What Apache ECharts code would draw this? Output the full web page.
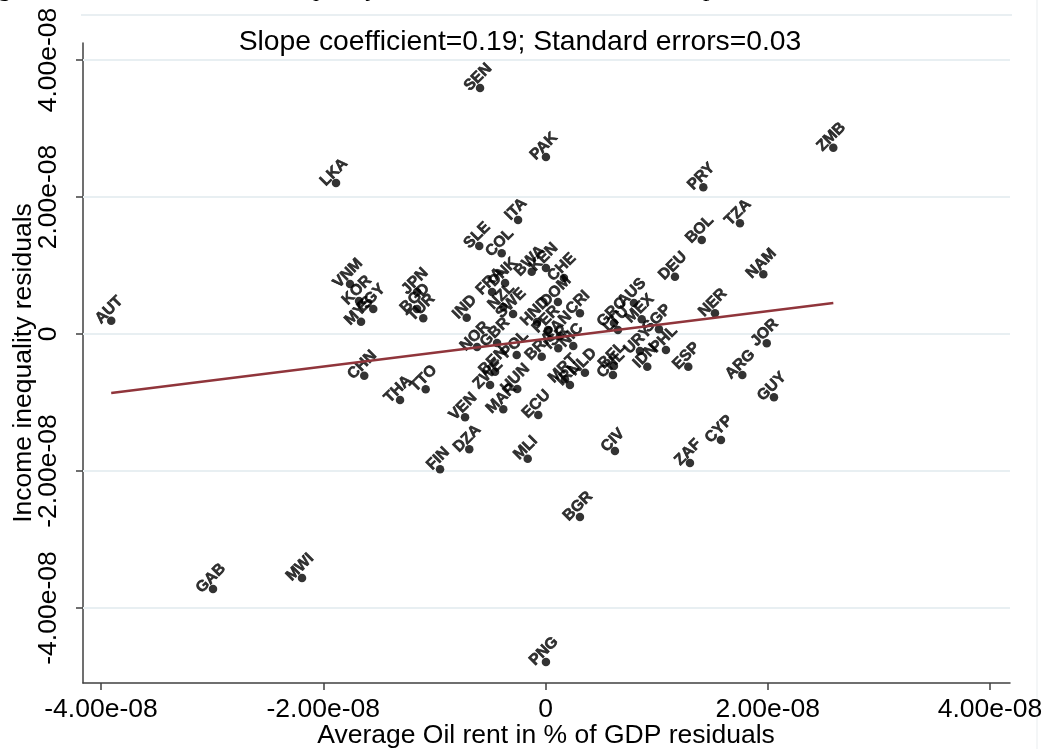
<!DOCTYPE html>
<html><head><meta charset="utf-8">
<script src="https://cdn.jsdelivr.net/npm/echarts@6/dist/echarts.min.js"></script>
<style>html,body{margin:0;padding:0;background:#fff;overflow:hidden}#c{width:1050px;height:749px}</style>
</head><body><div id="c"></div>
<script>
// All residual values are expressed in units of 1e-08
const countries = ['AUT','GAB','MWI','LKA','SEN','PAK','PRY','ZMB','TZA','BOL','NAM','DEU','NER','JOR','ARG','GUY','ESP','PHL','IDN','SGP','MEX','URY','GRC','AUS','LTU','BEL','CHL','ZAF','CYP','CIV','BGR','PNG','MLI','ECU','MAR','HUN','ZWE','VEN','DZA','FIN','THA','TTO','CHN','MYS','EGY','KOR','VNM','JPN','BGD','TUR','IND','SLE','COL','ITA','FRA','DNK','NZL','SWE','KEN','BWA','CHE','DOM','CRI','NOR','GBR','POL','ISR','NIC','BRA','BEN','MRT','NLD','IRL','HND','PER','PAN'];
const oilRentResid = [-3.908,-2.992,-2.191,-1.885,-0.589,0.004,1.420,2.590,1.750,1.406,1.960,1.165,1.525,1.991,1.771,2.056,1.285,1.084,0.916,1.021,0.866,0.850,0.616,0.796,0.652,0.616,0.607,1.300,1.579,0.625,0.310,0.004,-0.160,-0.065,-0.380,-0.254,-0.499,-0.724,-0.686,-0.949,-1.309,-1.078,-1.631,-1.660,-1.550,-1.678,-1.759,-1.156,-1.156,-1.100,-0.709,-0.596,-0.394,-0.247,-0.481,-0.364,-0.380,-0.292,0.004,-0.124,0.166,0.112,0.310,-0.616,-0.436,-0.259,0.115,0.250,-0.034,-0.454,0.175,0.355,0.220,-0.076,0.022,0.130];
const inequalityResid = [0.194,-3.723,-3.562,2.204,3.591,2.584,2.142,2.720,1.616,1.372,0.872,0.836,0.302,-0.136,-0.599,-0.924,-0.477,-0.234,-0.477,0.069,0.215,-0.248,0.161,0.453,0.058,-0.467,-0.599,-1.883,-1.547,-1.708,-2.672,-4.788,-1.820,-1.182,-1.099,-0.803,-0.745,-1.216,-1.683,-1.975,-0.964,-0.807,-0.609,0.180,0.365,0.482,0.730,0.613,0.365,0.229,0.238,1.285,1.178,1.664,0.613,0.745,0.394,0.292,0.964,0.909,0.818,0.467,0.302,-0.190,-0.131,-0.307,-0.209,-0.175,-0.331,-0.550,-0.661,-0.565,-0.745,0.175,0.058,-0.029];
const fitX = [-3.908, 2.590];
const fitY = [-0.861, 0.453];
const xTickValues = [-4, -2, 0, 2, 4];
const yTickValues = [-4, -2, 0, 2, 4];
const xAxisTitle = 'Average Oil rent in % of GDP residuals';
const yAxisTitle = 'Income inequality residuals';
const noteText = 'Slope coefficient=0.19; Standard errors=0.03';
// fragments of the document caption cut off at the top edge of the picture
const captionFragments = ['g', 'quality,', 'p'];

const FONT = '"Liberation Sans", Arial, sans-serif';
const SERIF = '"Liberation Serif", "Times New Roman", serif';
function fmt(v) { return v === 0 ? '0' : v.toFixed(2) + 'e-08'; }
const axisColor = '#404040';

const chart = echarts.init(document.getElementById('c'), null, {renderer: 'canvas'});
const points = countries.map((n, i) => ({name: n, value: [oilRentResid[i], inequalityResid[i]]}));
const captionX = [-2, 306, 703];

chart.setOption({
  backgroundColor: '#ffffff',
  animation: false,
  grid: {left: 83, right: 40, top: 43, bottom: 66, containLabel: false, outerBoundsMode: 'none'},
  xAxis: {
    type: 'value', min: -4.162, max: 4.18,
    axisLine: {show: true, onZero: false, lineStyle: {color: axisColor, width: 1.5}},
    axisTick: {show: true, customValues: xTickValues, length: 7, lineStyle: {color: axisColor, width: 1.5}},
    axisLabel: {customValues: xTickValues, formatter: fmt, fontSize: 26.5, color: '#000', fontFamily: FONT, margin: 13},
    splitLine: {show: false}
  },
  yAxis: {
    type: 'value', min: -5.095, max: 4.248,
    axisLine: {show: true, onZero: false, lineStyle: {color: axisColor, width: 1.5}},
    axisTick: {show: true, customValues: yTickValues, length: 7, lineStyle: {color: axisColor, width: 1.5}},
    axisLabel: {customValues: yTickValues, formatter: fmt, rotate: 90, fontSize: 26.5, color: '#000', fontFamily: FONT, margin: 21},
    splitLine: {show: false}
  },
  graphic: [
    {type: 'line', silent: true, z: -1, shape: {x1: 81, y1: 15, x2: 1012, y2: 15}, style: {stroke: '#e9eff2', lineWidth: 2}},
    {type: 'line', silent: true, z: -1, shape: {x1: 1037, y1: 0, x2: 1037, y2: 749}, style: {stroke: '#f1f3f5', lineWidth: 1.5}},
    {type: 'text', x: 520, y: 42, silent: true,
     style: {text: noteText, fill: '#000', font: '28.3px ' + FONT, textAlign: 'center', textVerticalAlign: 'middle'}},
    {type: 'text', x: 546, y: 736, silent: true,
     style: {text: xAxisTitle, fill: '#000', font: '26.5px ' + FONT, textAlign: 'center', textVerticalAlign: 'middle'}},
    {type: 'text', x: 24, y: 363, rotation: Math.PI / 2, silent: true,
     style: {text: yAxisTitle, fill: '#000', font: '26.5px ' + FONT, textAlign: 'center', textVerticalAlign: 'middle'}}
  ].concat(captionFragments.map((t, i) => ({
    type: 'text', x: captionX[i], y: -10.5, silent: true,
    style: {text: t, fill: '#000', font: '26px ' + SERIF, textAlign: 'left', textVerticalAlign: 'middle'}
  }))),
  series: [
    {
      type: 'scatter', z: 2, data: points, symbol: 'circle', symbolSize: 8.5,
      itemStyle: {color: '#000'},
      label: {show: true, formatter: '{b}', position: [2.2, -6.5], rotate: 45,
              align: 'center', verticalAlign: 'middle', fontSize: 15.5, fontWeight: 'bold', fontFamily: FONT,
              color: '#000', textBorderColor: '#000', textBorderWidth: 0.6},
      labelLayout: {hideOverlap: false},
      emphasis: {disabled: true},
      markLine: {silent: true, z: 1, symbol: ['none', 'none'], label: {show: false}, animation: false,
                 lineStyle: {color: '#e8eff2', width: 2, type: 'solid'},
                 data: yTickValues.map(v => ({yAxis: v}))}
    },
    {
      type: 'line', z: 5, data: fitX.map((x, i) => [x, fitY[i]]), showSymbol: false, symbol: 'none',
      lineStyle: {color: '#90353b', width: 2.5}, itemStyle: {color: '#90353b'}, emphasis: {disabled: true}
    }
  ]
});
</script>
</body></html>
